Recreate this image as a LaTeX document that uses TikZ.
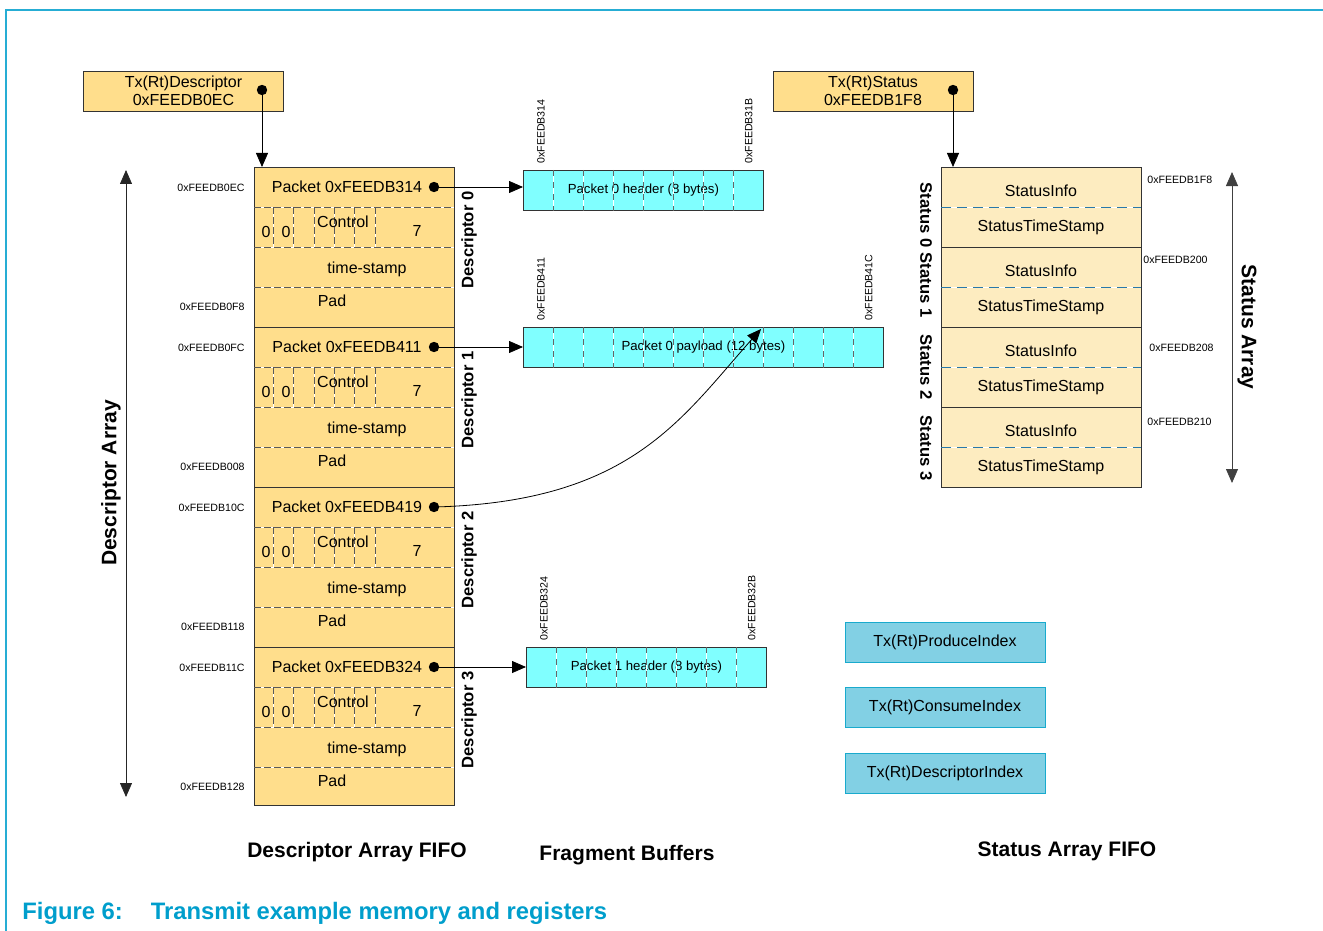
\documentclass[tikz,border=0pt]{standalone}
\usepackage{fontspec}
\setmainfont{Liberation Sans}
\usepackage{xcolor}
\usepackage{tikz}
\usetikzlibrary{arrows.meta,positioning,calc}
\definecolor{descfill}{RGB}{255,222,140}
\definecolor{statfill}{RGB}{253,236,192}
\definecolor{buffill}{RGB}{128,255,255}
\definecolor{regfill}{RGB}{130,208,228}
\definecolor{regline}{RGB}{25,170,205}
\definecolor{nxpblue}{RGB}{0,158,204}
\definecolor{dashblue}{RGB}{40,120,170}
\newcommand{\fsz}[1]{\fontsize{#1}{#1}\selectfont}

\begin{document}
\begin{tikzpicture}[x=0.5pt,y=-0.5pt,>={Triangle[length=7pt,width=6pt]},font={\fsz{8}},
  ptrbox/.style={draw=black!80,fill=descfill,minimum width=100pt,minimum height=20pt,align=center,inner sep=0pt,font={\fontsize{8}{9}\selectfont}},
  regbox/.style={draw=regline,fill=regfill,minimum width=100pt,minimum height=20pt,inner sep=0pt},
  bufbox/.style={draw=black!80,fill=buffill,minimum height=20pt,inner sep=0pt,font={\fsz{6.6}}},
  rowsep/.style={draw=black!65,dash pattern=on 3.5pt off 1.5pt,preaction={draw=white,solid}},
  celldash/.style={draw=black!60,dash pattern=on 3pt off 3pt,preaction={draw=white,solid}},
  statdash/.style={draw=dashblue,dash pattern=on 5pt off 3pt,preaction={draw=white,solid}},
  addr/.style={font={\fsz{5.3}},inner sep=0pt},
  sidelbl/.style={font={\fsz{8.3}\bfseries},inner sep=0pt},
  arrlbl/.style={font={\fsz{10.5}\bfseries},inner sep=0pt}]
  \useasboundingbox (0,0) rectangle (1323,931);
  \draw[nxpblue!85,line width=0.6pt] (6,931) -- (6,10) -- (1323,10);

  % pointer registers
  \node[ptrbox] (txdesc) at (183.5,91) {Tx(Rt)Descriptor\\0xFEEDB0EC};
  \node[ptrbox] (txstat) at (873,91) {Tx(Rt)Status\\0xFEEDB1F8};
  \coordinate (txdescdot) at (262,90);
  \coordinate (txstatdot) at (953,90);

  % descriptor array
  \node[draw=black!80,fill=descfill,anchor=north west,minimum width=100pt,minimum height=319pt,inner sep=0pt] (descarr) at (254,167) {};
  \foreach \i/\t/\pk/\aa/\ab in {0/167/314/0EC/0F8,1/327/411/0FC/008,2/487/419/10C/118,3/647/324/11C/128}{
    \draw[rowsep] (254,\t+40) -- (454,\t+40) (254,\t+80) -- (454,\t+80) (254,\t+120) -- (454,\t+120);
    \foreach \cx in {273,293,314,334,354,375}
      \draw[rowsep] (\cx,\t+40) -- (\cx,\t+80);
    \node (pk\i) at (347,\t+20) {Packet 0xFEEDB\pk};
    \coordinate (dot\i) at (434,\t+20);
    \node (za\i) at (266,\t+65) {0};
    \node (zb\i) at (286,\t+65) {0};
    \node (ctl\i) at (343,\t+55) {Control};
    \node (sev\i) at (417,\t+64) {7};
    \node (ts\i) at (367,\t+102) {time-stamp};
    \node (pad\i) at (332,\t+134) {Pad};
    \node[sidelbl,rotate=90] (dl\i) at (469,\t+73) {Descriptor \i};
    \node[addr,anchor=east] (aa\i) at (245,\t+21) {0xFEEDB\aa};
    \node[addr,anchor=east] (ab\i) at (245,\t+140) {0xFEEDB\ab};
  }
  \foreach \y in {327,487,647}
    \draw[black!80] (254,\y) -- (454,\y);

  % fragment buffers
  \foreach \n/\x/\y/\w/\txt/\la/\lb in {0/523/170/8/{Packet 0 header (8 bytes)}/314/31B,1/523/327/12/{Packet 0 payload (12 bytes)}/411/41C,2/526/647/8/{Packet 1 header (8 bytes)}/324/32B}{
    \node[bufbox,minimum width=\w*15pt,anchor=north west] (buf\n) at (\x,\y) {\txt};
    \pgfmathtruncatemacro\wm{\w-1}
    \foreach \k in {1,...,\wm}
      \draw[celldash] ([xshift=\k*15pt]buf\n.north west) -- ([xshift=\k*15pt]buf\n.south west);
    \node[addr,rotate=90,anchor=west] (bla\n) at ([xshift=9pt,yshift=3pt]buf\n.north west) {0xFEEDB\la};
    \node[addr,rotate=90,anchor=west] (blb\n) at ([xshift=-7.5pt,yshift=3pt]buf\n.north east) {0xFEEDB\lb};
  }
  \coordinate (payhit) at (761,329);

  % status array
  \node[draw=black!80,fill=statfill,anchor=north west,minimum width=100pt,minimum height=160pt,inner sep=0pt] (statarr) at (941,167) {};
  \foreach \i/\t/\ly/\ax/\ay/\ad in {0/167/215/1147/180/1F8,1/247/285/1143/260/200,2/327/367/1149/348/208,3/407/448/1147/422/210}{
    \draw[statdash] (941,\t+40) -- (1141,\t+40);
    \node (si\i) at (1041,\t+24) {StatusInfo};
    \node (st\i) at (1041,\t+60) {StatusTimeStamp};
    \node[sidelbl,rotate=-90] (sl\i) at (926,\ly) {Status \i};
    \node[addr,anchor=west] (sa\i) at (\ax,\ay) {0xFEEDB\ad};
  }
  \foreach \y in {247,327,407}
    \draw[black!80] (941,\y) -- (1141,\y);

  % array extents
  \coordinate (datop) at (126,170);
  \coordinate (dabot) at (126,797);
  \coordinate (satop) at (1232,172);
  \coordinate (sabot) at (1232,483);
  \draw[<->,black!85] (datop) -- (dabot);
  \draw[<->,black!75] (satop) -- (sabot);
  \node[arrlbl,rotate=90] (dalbl) at (111,483) {Descriptor Array};
  \node[arrlbl,rotate=-90] (salbl) at (1247,327) {Status Array};

  % pointers
  \draw[->] (txdescdot) -- (txdescdot |- descarr.north);
  \draw[->] (txstatdot) -- (txstatdot |- statarr.north);
  \draw[->] (dot0) -- (dot0 -| buf0.west);
  \draw[->] (dot1) -- (dot1 -| buf1.west);
  \draw[->] (dot3) -- (dot3 -| buf2.west);
  \draw[->] (dot2) .. controls (630,502) and (680,420) .. (payhit);
  \foreach \d in {txdescdot,txstatdot,dot0,dot1,dot2,dot3}
    \fill (\d) circle (2.6pt);

  % index registers
  \node[regbox] (prodidx) at (945,642) {Tx(Rt)ProduceIndex};
  \node[regbox,below=12.5pt of prodidx] (considx) {Tx(Rt)ConsumeIndex};
  \node[regbox,below=12.5pt of considx] (descidx) {Tx(Rt)DescriptorIndex};

  % titles
  \node[arrlbl] (descfifo) at (357,852) {Descriptor Array FIFO};
  \node[arrlbl] (fragbuf) at (627,855) {Fragment Buffers};
  \node[arrlbl] (statfifo) at (1067,851) {Status Array FIFO};
  \node[anchor=west,inner sep=0pt,text=nxpblue,font={\fsz{11.9}\bfseries}] (figcap) at (22,913) {Figure 6:\hspace{14pt}Transmit example memory and registers};
\end{tikzpicture}
\end{document}
